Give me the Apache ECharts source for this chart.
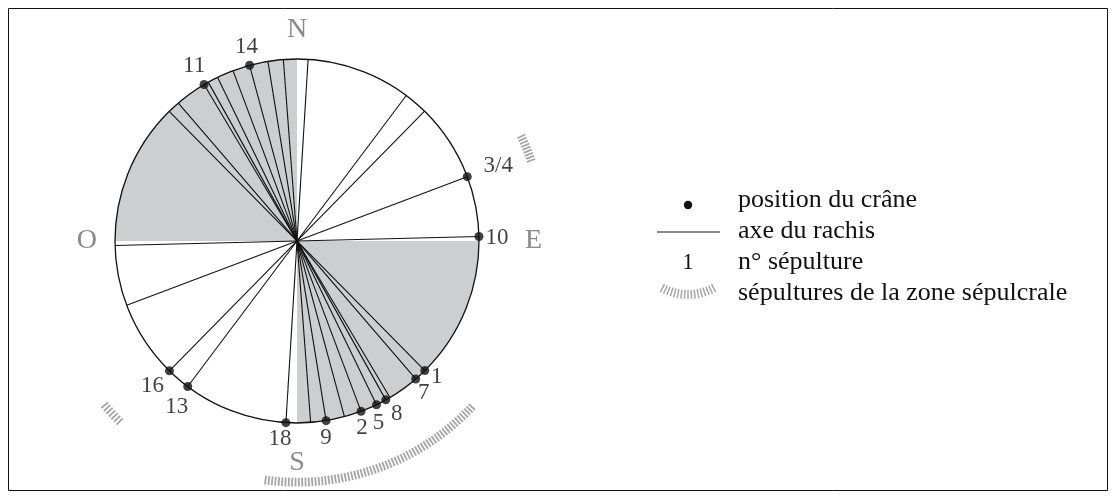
<!DOCTYPE html>
<html><head><meta charset="utf-8">
<script src="https://cdn.jsdelivr.net/npm/echarts@6/dist/echarts.min.js"></script>
<style>html,body{margin:0;padding:0;background:#fff}#c{width:1116px;height:499px}</style>
</head><body><div id="c"></div>
<script>
// ---- data (bearings in degrees, clockwise from North) ----
const burials = ['1','2','3/4','5','7','8','9','10','11','13','14','16','18'];
const skullBearing = [135.4,159.4,69.3,154.1,139.3,150.8,170.8,88.6,329.3,216.9,344.9,224.5,183.5];
const axesWithoutSkull = [175.7];
const shadedSectors = [[90,180],[270,360]];
const zoneArcs = [[65,71],[224.5,229.5],[133.5,187.5]];
const compassLetters = ['N','E','S','O'];
const compassBearings = [0,90,180,270];
const legendItems = ['position du crâne','axe du rachis','n° sépulture','sépultures de la zone sépulcrale'];

// ---- layout / style ----
const SERIF = '"Liberation Serif","Times New Roman",serif';
const labelOffsets = {'1':[12,6],'2':[1,17],'3/4':[31,-11],'5':[2,18],'7':[8,14],'8':[11,14],'9':[0,17.5],
  '10':[18,1.5],'11':[-10,-18.5],'13':[-11,20],'14':[-3,-18],'16':[-17,15.5],'18':[-6,16]};
const compassRadius = [1.16,1.30,1.22,1.155];
const zoneArcRadius = [1.36,1.39,1.325];
const hatchHalf = 0.024;

const chart = echarts.init(document.getElementById('c'), null, {renderer:'canvas'});
const allAxes = skullBearing.concat(axesWithoutSkull);

const option = {
  animation:false,
  backgroundColor:'#fff',
  polar:{center:[297,241], radius:182},
  angleAxis:{type:'value', min:0, max:360, startAngle:90, clockwise:true, z:10,
    axisLine:{show:true, lineStyle:{color:'#111', width:1.3}},
    axisTick:{show:false}, axisLabel:{show:false}, splitLine:{show:false}},
  radiusAxis:{type:'value', min:0, max:1, show:false,
    axisLine:{show:false}, axisTick:{show:false}, axisLabel:{show:false}, splitLine:{show:false}},
  series:[
    { // shaded quadrants
      type:'custom', coordinateSystem:'polar', z:1, silent:true,
      data: shadedSectors.map(s=>[1, s[0], s[1]]),
      renderItem:(params, api)=>{
        const s = api.value(1), e = api.value(2);
        const pts = [api.coord([0, s])];
        for (let a = s; a <= e + 1e-9; a += 0.5) pts.push(api.coord([1, a % 360]));
        return {type:'polygon', shape:{points:pts}, style:{fill:'#cdcecf'}};
      }
    },
    { // rachis axes (diameters)
      type:'custom', coordinateSystem:'polar', z:3, silent:true,
      data: allAxes.map(b=>[1,b]),
      renderItem:(params, api)=>{
        const b = api.value(1);
        const p1 = api.coord([1, b]), p2 = api.coord([1, (b+180)%360]);
        return {type:'line', shape:{x1:p1[0],y1:p1[1],x2:p2[0],y2:p2[1]}, style:{stroke:'#111', lineWidth:1.1}};
      }
    },
    { // zone hatch arcs
      type:'custom', coordinateSystem:'polar', z:2, silent:true,
      data: zoneArcs.map((a,i)=>[zoneArcRadius[i], a[0], a[1]]),
      renderItem:(params, api)=>{
        const r = api.value(0), s = api.value(1), e = api.value(2);
        const children = [];
        const n = Math.max(1, Math.round((e - s) / 0.8));
        for (let i = 0; i <= n; i++) {
          const a = s + (e - s) * i / n;
          const p1 = api.coord([r - hatchHalf, a]), p2 = api.coord([r + hatchHalf, a]);
          children.push({type:'line', shape:{x1:p1[0],y1:p1[1],x2:p2[0],y2:p2[1]}, style:{stroke:'#a6a6a6', lineWidth:1.8}});
        }
        return {type:'group', children};
      }
    },
    { // skull positions + burial numbers
      type:'scatter', coordinateSystem:'polar', z:5, clip:false, silent:true,
      symbol:'circle', symbolSize:9, itemStyle:{color:'#111'},
      data: burials.map((n,i)=>({name:n, value:[1, skullBearing[i]],
        label:{offset:labelOffsets[n]}})),
      label:{show:true, position:'inside', formatter:'{b}', fontFamily:SERIF, fontSize:23, color:'#111'}
    },
    { // compass letters
      type:'custom', coordinateSystem:'polar', z:4, silent:true,
      data: compassLetters.map((l,i)=>[compassRadius[i], compassBearings[i]]),
      renderItem:(params, api)=>{
        const p = api.coord([api.value(0), api.value(1)]);
        return {type:'text', x:p[0], y:p[1], style:{text:compassLetters[params.dataIndex], fill:'#8a8a8a',
          font:'28px '+SERIF, align:'center', verticalAlign:'middle'}};
      }
    }
  ],
  graphic:[
    {type:'rect', shape:{x:8.5,y:8.5,width:1099,height:482}, style:{fill:null, stroke:'#111', lineWidth:1}, silent:true},
    {type:'circle', shape:{cx:688, cy:205, r:4.2}, style:{fill:'#111'}},
    {type:'line', shape:{x1:657,y1:232,x2:720,y2:232}, style:{stroke:'#111', lineWidth:1.1}},
    {type:'text', x:688, y:263, style:{text:'1', font:'23px '+SERIF, fill:'#111', align:'center', verticalAlign:'middle'}},
    {type:'group', children:(function(){
      const c=[]; const cx=688, cy=240;
      for(let i=0;i<=16;i++){ const a=(62+56*i/16)*Math.PI/180;
        c.push({type:'line', shape:{x1:cx+50*Math.cos(a), y1:cy+50*Math.sin(a), x2:cx+59*Math.cos(a), y2:cy+59*Math.sin(a)},
          style:{stroke:'#a6a6a6', lineWidth:1.5}}); }
      return c; })()},
  ].concat(legendItems.map((t,i)=>({type:'text', x:738, y:200+31*i,
      style:{text:t, font:'26px '+SERIF, fill:'#111', align:'left', verticalAlign:'middle'}})))
};
chart.setOption(option);
</script></body></html>
